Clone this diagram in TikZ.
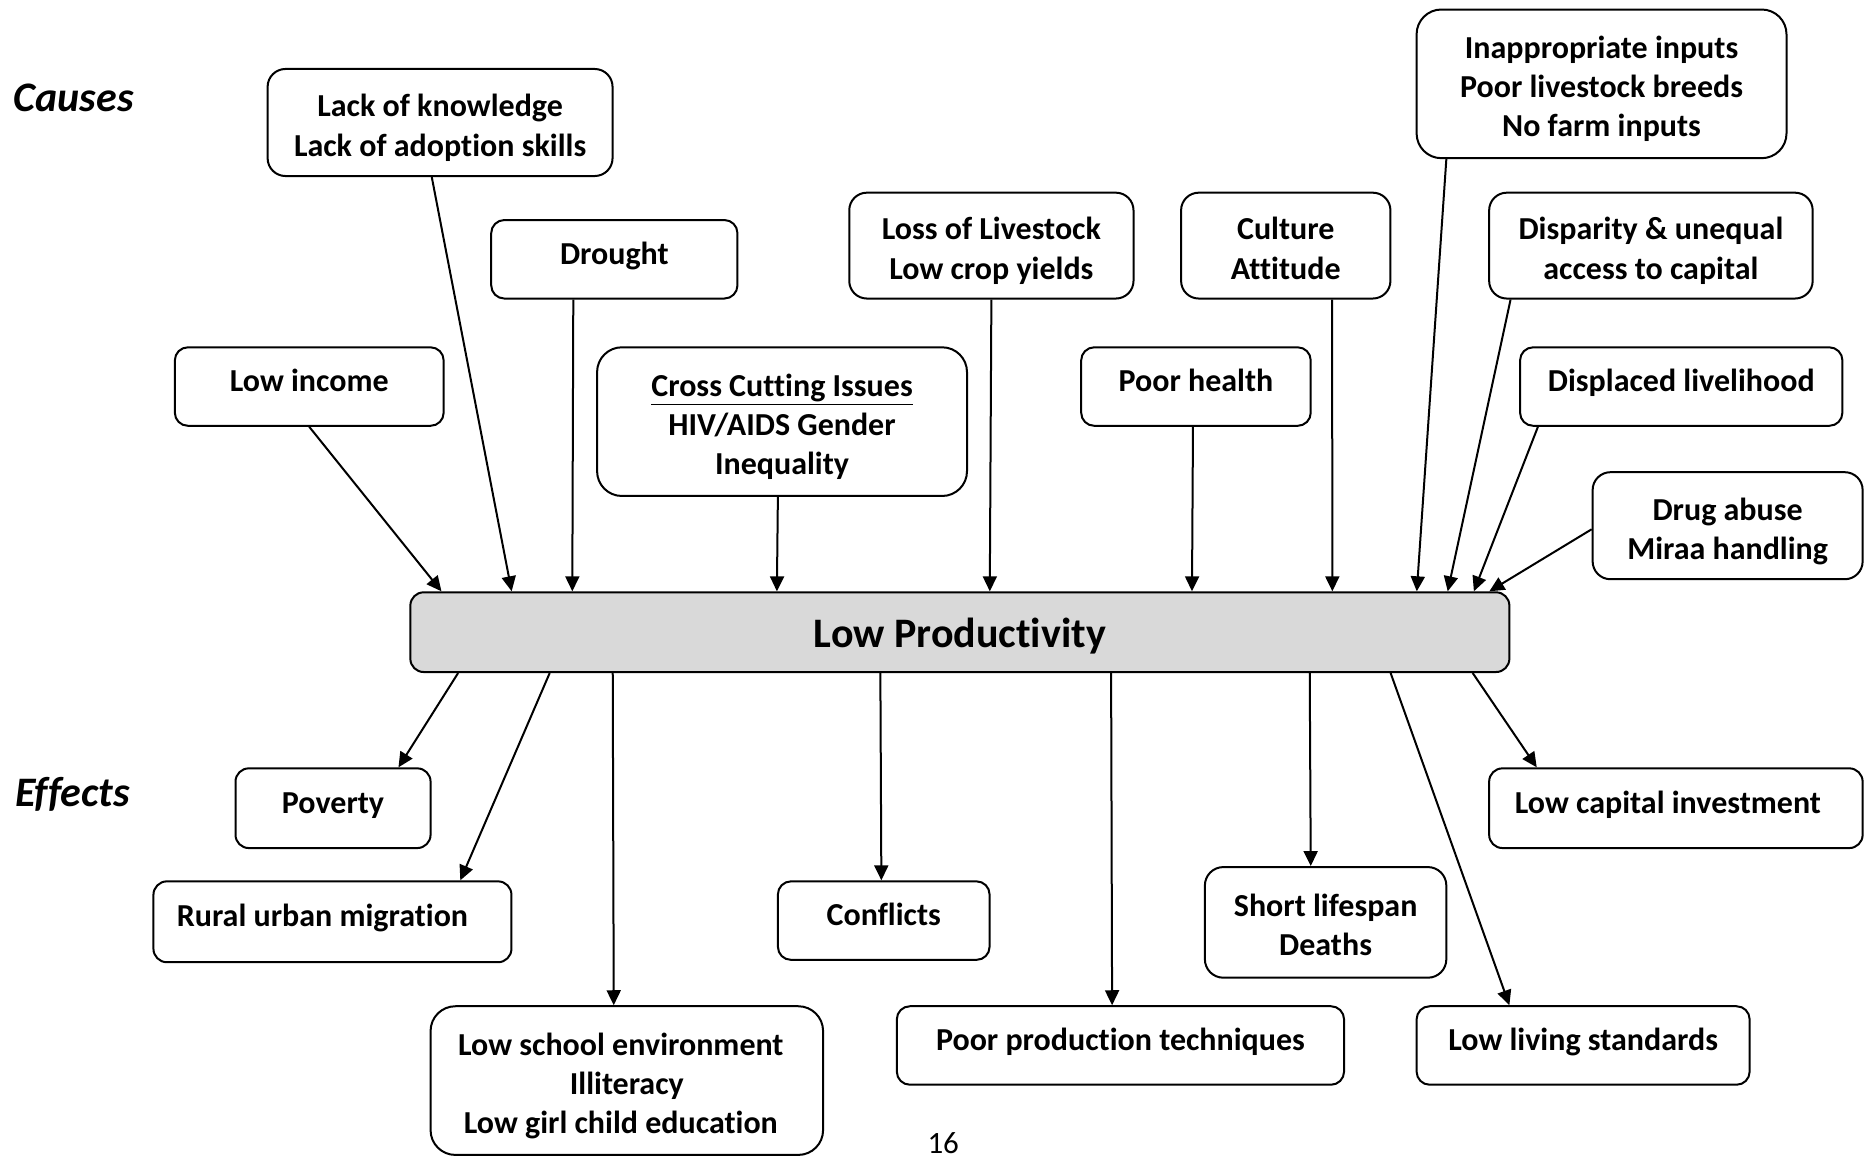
\documentclass[tikz,border=0pt]{standalone}
\usepackage{fontspec}
\setmainfont{Carlito}[Ligatures=NoCommon]
\usetikzlibrary{arrows.meta,calc}
\definecolor{prodgray}{HTML}{D9D9D9}
\newcommand\tpstrut{\rule{0pt}{18.2pt}}
\newcommand\btstrut{\rule[-4.3pt]{0pt}{4.3pt}}
\tikzset{
  box/.style={draw, line width=1pt, fill=white, inner sep=0pt, align=center,
    font=\bfseries\fontsize{16}{19.6}\selectfont},
  sz/.style 2 args={minimum width={#1*0.5947pt}, minimum height={#2*0.5947pt},
    rounded corners={min(#1,#2)*0.0991pt}},
  one/.style={text height=12pt, text depth=7pt},
  arr/.style={line width=1pt, -{Triangle[length=7.5pt,width=7pt]}},
  sidelabel/.style={inner sep=0pt, font=\bfseries\itshape\fontsize{21}{25}\selectfont},
}
\begin{document}
\begin{tikzpicture}[x=0.5947pt, y=-0.5947pt]
\path[fill=white] (0,0) rectangle (1568,976);
\useasboundingbox (0,0) rectangle (1568,976);

% side labels
\node[sidelabel] (causes) at (62,82) {Causes};
\node[sidelabel] (effects) at (61,668) {Effects};

% causes
\node[box, sz={290}{90}] (lack) at (370,103) {\tpstrut Lack of knowledge\\Lack of adoption skills\btstrut};
\node[box, one, sz={207}{66}] (drought) at (516.5,218) {Drought};
\node[box, one, sz={226}{66}] (lowinc) at (260,325) {Low income};
\node[box, sz={311}{125}] (cross) at (657.5,354.5) {\tpstrut\underline{Cross Cutting Issues}\\HIV/AIDS Gender\\Inequality\btstrut};
\node[box, sz={239}{89}] (loss) at (833.5,206.5) {\tpstrut Loss of Livestock\\Low crop yields\btstrut};
\node[box, sz={176}{89}] (culture) at (1081,206.5) {\tpstrut Culture\\Attitude\btstrut};
\node[box, one, sz={193}{66}] (health) at (1005.5,325) {Poor health};
\node[box, sz={311}{125}] (inapp) at (1346.5,70.5) {\tpstrut Inappropriate inputs\\Poor livestock breeds\\No farm inputs\btstrut};
\node[box, sz={272}{89}] (disp) at (1388,206.5) {\tpstrut Disparity \& unequal\\access to capital\btstrut};
\node[box, one, sz={271}{66}] (displ) at (1413.5,325) {Displaced livelihood};
\node[box, sz={227}{90}] (drug) at (1452.5,442) {\tpstrut Drug abuse\\Miraa handling\btstrut};

% core problem
\node[box, fill=prodgray, sz={924}{67}, text height=19.6pt, text depth=4.4pt,
  font=\bfseries\fontsize{21}{25}\selectfont] (prod) at (807,531.5) {Low Productivity};

% effects
\node[box, one, sz={164}{67}] (poverty) at (280,679.5) {Poverty};
\node[box, one, sz={301}{68}] (rural) at (279.5,775) {Rural urban migration\hspace*{10pt}};
\node[box, sz={330}{125}] (school) at (527,908.5) {\tpstrut Low school environment\hspace*{6pt}\\Illiteracy\hspace*{15pt}\\Low girl child education\hspace*{6pt}\btstrut};
\node[box, one, sz={178}{66}] (conflicts) at (743,774) {Conflicts};
\node[box, sz={203}{93}] (short) at (1114.5,775.5) {\tpstrut Short lifespan\\Deaths\btstrut};
\node[box, one, sz={376}{66}] (poorprod) at (942,879) {Poor production techniques};
\node[box, one, sz={280}{66}] (living) at (1331,879) {Low living standards};
\node[box, one, sz={314}{67}] (capital) at (1409,679.5) {Low capital investment\hspace*{8pt}};

% page number
\node[inner sep=0pt, font=\fontsize{15.5}{18}\selectfont] (pagenum) at (793,961) {16};

% cause arrows
\draw[arr] (lowinc.south) -- ($(prod.north west)+(27,0)$);
\draw[arr] ($(lack.south)+(-7,0)$) -- ($(prod.north west)+(86,0)$);
\draw[arr] ($(drought.south)+(-34.5,0)$) -- ($(prod.north west)+(137,0)$);
\draw[arr] ($(cross.south)+(-3.5,0)$) -- ($(prod.north west)+(309,0)$);
\draw[arr] (loss.south) -- ($(prod.north west)+(488,0)$);
\draw[arr] ($(health.south)+(-2.5,0)$) -- ($(prod.north west)+(658,0)$);
\draw[arr] ($(culture.south)+(39,0)$) -- ($(prod.north west)+(776,0)$);
\draw[arr] ($(inapp.south)+(-130.5,0)$) -- ($(prod.north west)+(847,0)$);
\draw[arr] ($(disp.south)+(-118,0)$) -- ($(prod.north west)+(873,0)$);
\draw[arr] ($(displ.south)+(-120.5,0)$) -- ($(prod.north west)+(895,0)$);
\draw[arr] ($(drug.west)+(0,3)$) -- ($(prod.north west)+(908,0)$);

% effect arrows
\draw[arr] ($(prod.south west)+(41,0)$) -- ($(poverty.north)+(55,0)$);
\draw[arr] ($(prod.south west)+(118,0)$) -- ($(rural.north)+(107.5,0)$);
\draw[arr] ($(prod.south west)+(171,0)$) -- ($(school.north)+(-11,0)$);
\draw[arr] ($(prod.south west)+(396,0)$) -- ($(conflicts.north)+(-2,0)$);
\draw[arr] ($(prod.south west)+(590,0)$) -- ($(poorprod.north)+(-7,0)$);
\draw[arr] ($(prod.south west)+(757,0)$) -- ($(short.north)+(-12.5,0)$);
\draw[arr] ($(prod.south west)+(825,0)$) -- ($(living.north)+(-62,0)$);
\draw[arr] ($(prod.south west)+(894,0)$) -- ($(capital.north)+(-117,0)$);
\end{tikzpicture}
\end{document}
